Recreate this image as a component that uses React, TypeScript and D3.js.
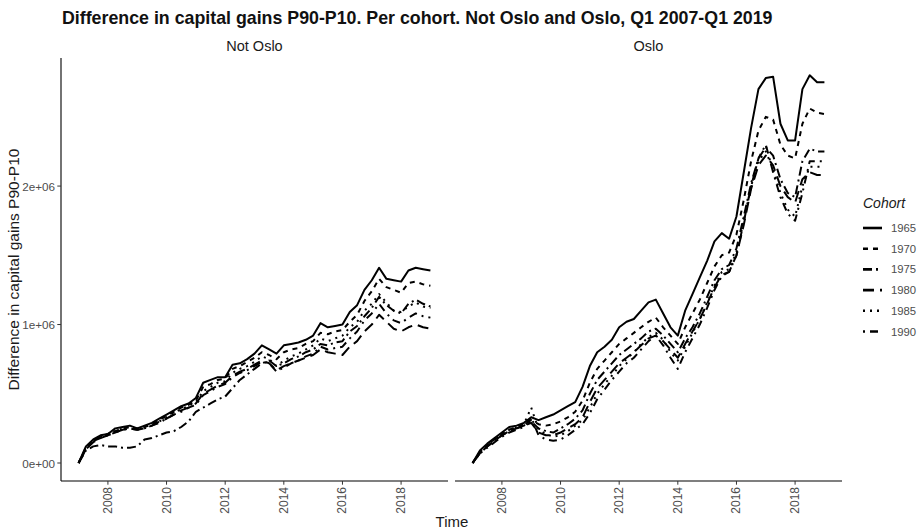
import React from "react";
import * as d3 from "d3";

// Quarters 2007 Q1 .. 2019 Q1
const quarters: number[] = d3.range(49).map((i) => 2007 + i / 4);
const cohorts = ["1965", "1970", "1975", "1980", "1985", "1990"];
const panels = ["Not Oslo", "Oslo"];
const yTicks = [0, 1e6, 2e6];
const yTickLabels = ["0e+00", "1e+06", "2e+06"];
const xTicks = [2008, 2010, 2012, 2014, 2016, 2018];

// values in millions NOK, Not Oslo
const notOslo1965 = [0.00, 0.12, 0.17, 0.20, 0.21, 0.25, 0.26, 0.27, 0.25, 0.27, 0.29, 0.32, 0.35, 0.38, 0.41, 0.43, 0.47, 0.58, 0.60, 0.62, 0.62, 0.71, 0.72, 0.75, 0.79, 0.85, 0.82, 0.79, 0.85, 0.86, 0.87, 0.89, 0.92, 1.01, 0.98, 0.99, 1.00, 1.09, 1.14, 1.25, 1.32, 1.41, 1.33, 1.32, 1.31, 1.39, 1.41, 1.40, 1.39];
const notOslo1970 = [0.00, 0.11, 0.16, 0.19, 0.21, 0.23, 0.25, 0.26, 0.25, 0.26, 0.28, 0.31, 0.34, 0.37, 0.40, 0.42, 0.45, 0.55, 0.57, 0.60, 0.61, 0.68, 0.70, 0.73, 0.76, 0.80, 0.78, 0.75, 0.80, 0.82, 0.83, 0.86, 0.88, 0.94, 0.93, 0.95, 0.96, 1.02, 1.07, 1.17, 1.24, 1.33, 1.27, 1.25, 1.23, 1.30, 1.31, 1.29, 1.28];
const notOslo1975 = [0.00, 0.09, 0.12, 0.13, 0.12, 0.12, 0.11, 0.11, 0.12, 0.17, 0.18, 0.20, 0.22, 0.23, 0.26, 0.30, 0.37, 0.40, 0.43, 0.46, 0.48, 0.54, 0.60, 0.64, 0.68, 0.72, 0.74, 0.70, 0.72, 0.75, 0.77, 0.80, 0.82, 0.86, 0.85, 0.87, 0.88, 0.95, 0.99, 1.06, 1.12, 1.20, 1.14, 1.10, 1.08, 1.15, 1.18, 1.15, 1.13];
const notOslo1980 = [0.00, 0.10, 0.15, 0.18, 0.20, 0.22, 0.24, 0.25, 0.24, 0.25, 0.27, 0.30, 0.32, 0.35, 0.38, 0.40, 0.43, 0.50, 0.53, 0.56, 0.58, 0.63, 0.66, 0.68, 0.71, 0.74, 0.72, 0.67, 0.70, 0.72, 0.74, 0.76, 0.78, 0.82, 0.80, 0.79, 0.78, 0.84, 0.88, 0.95, 1.00, 1.07, 1.02, 0.97, 0.95, 0.98, 1.00, 0.98, 0.97];
const notOslo1985 = [0.00, 0.11, 0.16, 0.19, 0.21, 0.23, 0.25, 0.26, 0.24, 0.26, 0.28, 0.30, 0.33, 0.36, 0.39, 0.41, 0.44, 0.52, 0.55, 0.58, 0.59, 0.65, 0.68, 0.70, 0.73, 0.77, 0.75, 0.70, 0.74, 0.77, 0.79, 0.82, 0.85, 0.90, 0.88, 0.90, 0.92, 0.98, 1.02, 1.10, 1.15, 1.22, 1.16, 1.10, 1.09, 1.13, 1.16, 1.13, 1.12];
const notOslo1990 = [0.00, 0.10, 0.16, 0.18, 0.20, 0.22, 0.24, 0.25, 0.24, 0.25, 0.27, 0.29, 0.32, 0.35, 0.37, 0.40, 0.42, 0.49, 0.52, 0.55, 0.57, 0.62, 0.65, 0.67, 0.70, 0.73, 0.72, 0.66, 0.69, 0.72, 0.74, 0.77, 0.79, 0.84, 0.82, 0.83, 0.84, 0.90, 0.95, 1.03, 1.08, 1.15, 1.08, 1.03, 1.01, 1.05, 1.08, 1.06, 1.05];

// Oslo
const oslo1965 = [0.00, 0.09, 0.14, 0.18, 0.22, 0.26, 0.27, 0.29, 0.33, 0.31, 0.33, 0.35, 0.38, 0.41, 0.44, 0.55, 0.70, 0.80, 0.84, 0.89, 0.98, 1.02, 1.04, 1.10, 1.16, 1.18, 1.08, 0.98, 0.92, 1.10, 1.22, 1.34, 1.46, 1.60, 1.66, 1.62, 1.78, 2.10, 2.42, 2.70, 2.78, 2.79, 2.45, 2.33, 2.33, 2.70, 2.80, 2.75, 2.75];
const oslo1970 = [0.00, 0.08, 0.13, 0.17, 0.21, 0.24, 0.26, 0.28, 0.31, 0.28, 0.27, 0.28, 0.30, 0.33, 0.37, 0.45, 0.58, 0.68, 0.74, 0.80, 0.86, 0.90, 0.94, 0.98, 1.02, 1.05, 0.98, 0.92, 0.86, 0.98, 1.08, 1.18, 1.30, 1.42, 1.50, 1.52, 1.65, 1.90, 2.18, 2.40, 2.50, 2.48, 2.30, 2.22, 2.20, 2.45, 2.56, 2.53, 2.52];
const oslo1975 = [0.00, 0.07, 0.12, 0.16, 0.20, 0.23, 0.25, 0.27, 0.30, 0.25, 0.23, 0.22, 0.25, 0.28, 0.32, 0.38, 0.50, 0.60, 0.66, 0.72, 0.78, 0.82, 0.86, 0.90, 0.95, 0.97, 0.92, 0.86, 0.80, 0.90, 0.98, 1.08, 1.20, 1.32, 1.40, 1.43, 1.55, 1.78, 2.02, 2.20, 2.28, 2.22, 2.05, 1.95, 1.92, 2.18, 2.27, 2.25, 2.25];
const oslo1980 = [0.00, 0.07, 0.12, 0.16, 0.20, 0.23, 0.25, 0.27, 0.29, 0.22, 0.20, 0.20, 0.22, 0.25, 0.28, 0.33, 0.44, 0.54, 0.60, 0.66, 0.72, 0.76, 0.80, 0.85, 0.90, 0.92, 0.88, 0.82, 0.76, 0.86, 0.95, 1.04, 1.15, 1.27, 1.36, 1.38, 1.50, 1.72, 1.98, 2.15, 2.22, 2.15, 2.00, 1.92, 1.88, 2.05, 2.10, 2.08, 2.08];
const oslo1985 = [0.00, 0.08, 0.13, 0.17, 0.21, 0.24, 0.26, 0.28, 0.40, 0.24, 0.21, 0.19, 0.20, 0.23, 0.27, 0.31, 0.40, 0.50, 0.57, 0.63, 0.70, 0.75, 0.80, 0.86, 0.91, 0.94, 0.89, 0.80, 0.74, 0.84, 0.94, 1.04, 1.16, 1.28, 1.38, 1.40, 1.52, 1.75, 2.00, 2.18, 2.25, 2.12, 1.95, 1.83, 1.78, 2.00, 2.14, 2.14, 2.14];
const oslo1990 = [0.00, 0.07, 0.11, 0.15, 0.19, 0.22, 0.24, 0.26, 0.33, 0.20, 0.17, 0.16, 0.17, 0.20, 0.24, 0.28, 0.36, 0.46, 0.53, 0.60, 0.66, 0.72, 0.76, 0.82, 0.88, 0.92, 0.85, 0.76, 0.68, 0.80, 0.90, 1.00, 1.12, 1.25, 1.35, 1.38, 1.50, 1.74, 2.00, 2.20, 2.30, 2.10, 1.92, 1.80, 1.75, 1.95, 2.18, 2.18, 2.18];

const panelSeries: number[][][] = [
  [notOslo1965, notOslo1970, notOslo1975, notOslo1980, notOslo1985, notOslo1990],
  [oslo1965, oslo1970, oslo1975, oslo1980, oslo1985, oslo1990],
];

const dashes = ["none", "5 5", "9 4 2 4", "11 6", "2 5", "2 5 8 5"];

const W = 922;
const H = 532;
const top = 58;
const bottom = 481;
const panelX: [number, number][] = [
  [61, 448],
  [455, 842],
];

export default function App() {
  const y = d3.scaleLinear().domain([-0.13e6, 2.925e6]).range([bottom, top]);
  const textCol = "#4d4d4d";
  const font = "'Liberation Sans', Arial, sans-serif";

  return (
    <svg
      width={W}
      height={H}
      style={{ position: "absolute", left: 0, top: 0, background: "#fff" }}
      fontFamily={font}
    >
      <text x={62} y={24} fontSize={17.8} fontWeight="bold" fill="#111">
        Difference in capital gains P90-P10. Per cohort. Not Oslo and Oslo, Q1 2007-Q1 2019
      </text>

      {panels.map((p, pi) => {
        const x = d3
          .scaleLinear()
          .domain([2006.4, 2019.6])
          .range(panelX[pi]);
        const line = d3
          .line<number>()
          .x((_, i) => x(quarters[i]))
          .y((v) => y(v * 1e6));
        return (
          <g key={p}>
            <text
              x={(panelX[pi][0] + panelX[pi][1]) / 2}
              y={51}
              fontSize={14.5}
              textAnchor="middle"
              fill="#1a1a1a"
            >
              {p}
            </text>
            {panelSeries[pi].map((s, si) => (
              <path
                key={si}
                d={line(s) || ""}
                fill="none"
                stroke="#000"
                strokeWidth={2}
                strokeDasharray={dashes[si]}
                strokeLinejoin="round"
              />
            ))}
            <line
              x1={panelX[pi][0]}
              x2={panelX[pi][1]}
              y1={bottom}
              y2={bottom}
              stroke="#000"
              strokeWidth={1.1}
            />
            {xTicks.map((t) => (
              <g key={t}>
                <line
                  x1={x(t)}
                  x2={x(t)}
                  y1={bottom}
                  y2={bottom + 3.7}
                  stroke="#333"
                  strokeWidth={1}
                />
                <text
                  transform={`translate(${x(t)},${bottom + 6}) rotate(-90)`}
                  textAnchor="end"
                  dominantBaseline="central"
                  fontSize={12}
                  fill={textCol}
                >
                  {t}
                </text>
              </g>
            ))}
          </g>
        );
      })}

      {/* y axis (left panel only) */}
      <line x1={61} x2={61} y1={top} y2={bottom} stroke="#000" strokeWidth={1.1} />
      {yTicks.map((t, i) => (
        <g key={t}>
          <line x1={57.3} x2={61} y1={y(t)} y2={y(t)} stroke="#333" strokeWidth={1} />
          <text
            x={55}
            y={y(t)}
            textAnchor="end"
            dominantBaseline="central"
            fontSize={11.7}
            fill={textCol}
          >
            {yTickLabels[i]}
          </text>
        </g>
      ))}
      <text
        transform={`translate(13,${(top + bottom) / 2}) rotate(-90)`}
        textAnchor="middle"
        dominantBaseline="central"
        fontSize={15.5}
        fill="#1a1a1a"
      >
        Difference in capital gains P90-P10
      </text>
      <text x={452} y={527} textAnchor="middle" fontSize={15} fill="#1a1a1a">
        Time
      </text>

      {/* legend */}
      <text x={863} y={208} fontSize={14} fontStyle="italic" fill="#1a1a1a">
        Cohort
      </text>
      {cohorts.map((c, i) => {
        const yy = 228 + i * 20.7;
        return (
          <g key={c}>
            <line
              x1={863}
              x2={882}
              y1={yy}
              y2={yy}
              stroke="#000"
              strokeWidth={2.6}
              strokeDasharray={dashes[i]}
            />
            <text x={891} y={yy} dominantBaseline="central" fontSize={11.3} fill={textCol}>
              {c}
            </text>
          </g>
        );
      })}
    </svg>
  );
}
